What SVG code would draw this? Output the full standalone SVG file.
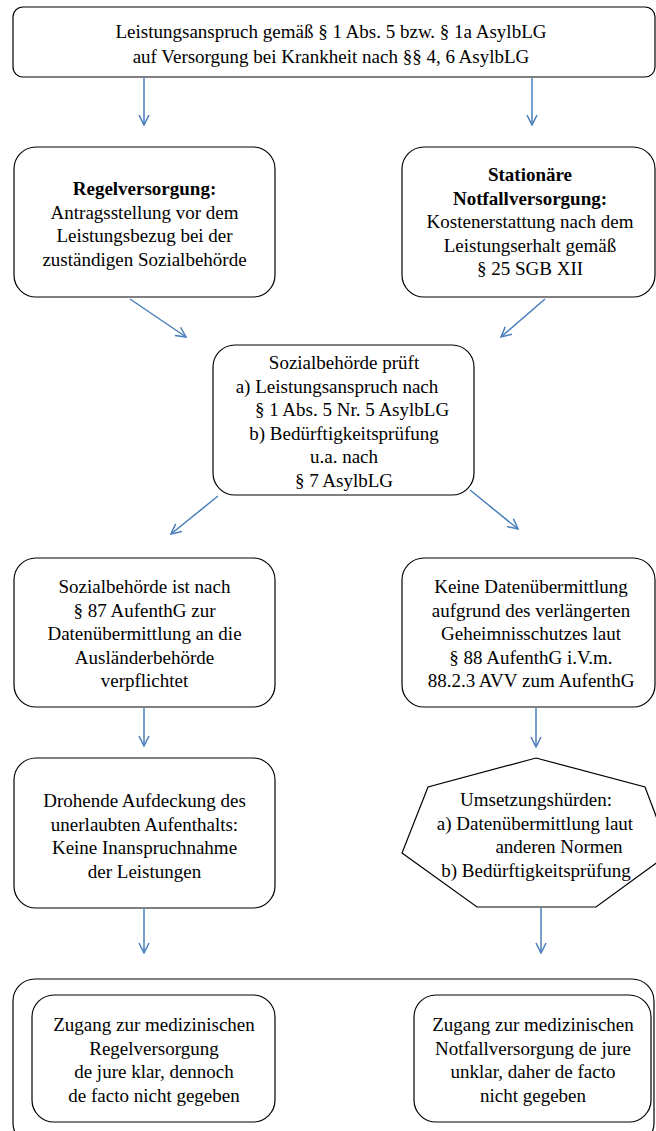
<svg xmlns="http://www.w3.org/2000/svg" width="656" height="1131" viewBox="0 0 656 1131">
<defs>
<marker id="ah" viewBox="0 0 12 12" refX="11" refY="6" markerWidth="12" markerHeight="12" markerUnits="userSpaceOnUse" orient="auto">
<path d="M1,1 L11,6 L1,11" fill="none" stroke="#4A7EBB" stroke-width="1.5"/>
</marker>
<style>
.box{fill:#fff;stroke:#000;stroke-width:1.2}
.t{font-family:"Liberation Serif","Times New Roman",serif;font-size:19px;fill:#000;text-anchor:middle}
.b{font-weight:bold}
.arr{stroke:#4A7EBB;stroke-width:1.5;fill:none;marker-end:url(#ah)}
</style>
</defs>
<rect width="656" height="1131" fill="#fff"/>
<g id="connectors">
<line class="arr" x1="144" y1="78" x2="144" y2="125"/>
<line class="arr" x1="532" y1="78" x2="532" y2="125"/>
<line class="arr" x1="130" y1="299" x2="186" y2="337"/>
<line class="arr" x1="545" y1="299" x2="501" y2="337"/>
<line class="arr" x1="218" y1="496" x2="171" y2="534"/>
<line class="arr" x1="470" y1="490" x2="518" y2="529"/>
<line class="arr" x1="144" y1="708" x2="144" y2="746"/>
<line class="arr" x1="536" y1="708" x2="536" y2="747"/>
<line class="arr" x1="144" y1="909" x2="144" y2="953"/>
<line class="arr" x1="541" y1="908" x2="541" y2="953"/>
</g>
<g id="n1">
<rect class="box" x="13" y="7" width="642" height="70" rx="10"/>
<text class="t" x="331" y="38">Leistungsanspruch gemäß § 1 Abs. 5 bzw. § 1a AsylbLG</text>
<text class="t" x="331" y="63">auf Versorgung bei Krankheit nach §§ 4, 6 AsylbLG</text>
</g>
<g id="n2">
<rect class="box" x="14" y="147" width="261" height="150" rx="22"/>
<text class="t b" x="144.5" y="195">Regelversorgung:</text>
<text class="t" x="144.5" y="218.5">Antragsstellung vor dem</text>
<text class="t" x="144.5" y="242">Leistungsbezug bei der</text>
<text class="t" x="144.5" y="265.5">zuständigen Sozialbehörde</text>
</g>
<g id="n3">
<rect class="box" x="402" y="147" width="253" height="150" rx="22"/>
<text class="t b" x="530" y="181">Stationäre</text>
<text class="t b" x="530" y="204.5">Notfallversorgung:</text>
<text class="t" x="530" y="228">Kostenerstattung nach dem</text>
<text class="t" x="530" y="251.5">Leistungserhalt gemäß</text>
<text class="t" x="530" y="275">§ 25 SGB XII</text>
</g>
<g id="n4">
<rect class="box" x="213" y="345" width="261" height="150" rx="22"/>
<text class="t" x="344" y="369">Sozialbehörde prüft</text>
<text class="t" x="337" y="392.5">a) Leistungsanspruch nach</text>
<text class="t" x="352" y="416">§ 1 Abs. 5 Nr. 5 AsylbLG</text>
<text class="t" x="344" y="439.5">b) Bedürftigkeitsprüfung</text>
<text class="t" x="344" y="463">u.a. nach</text>
<text class="t" x="344" y="486.5">§ 7 AsylbLG</text>
</g>
<g id="n5">
<rect class="box" x="14" y="558" width="261" height="149" rx="22"/>
<text class="t" x="144.5" y="593">Sozialbehörde ist nach</text>
<text class="t" x="144.5" y="616.5">§ 87 AufenthG zur</text>
<text class="t" x="144.5" y="640">Datenübermittlung an die</text>
<text class="t" x="144.5" y="663.5">Ausländerbehörde</text>
<text class="t" x="144.5" y="687">verpflichtet</text>
</g>
<g id="n6">
<rect class="box" x="402" y="558" width="253" height="149" rx="22"/>
<text class="t" x="531" y="593">Keine Datenübermittlung</text>
<text class="t" x="531" y="616.5">aufgrund des verlängerten</text>
<text class="t" x="531" y="640">Geheimnisschutzes laut</text>
<text class="t" x="531" y="663.5">§ 88 AufenthG i.V.m.</text>
<text class="t" x="531" y="687">88.2.3 AVV zum AufenthG</text>
</g>
<g id="n7">
<rect class="box" x="14" y="758" width="261" height="150" rx="22"/>
<text class="t" x="144.5" y="807">Drohende Aufdeckung des</text>
<text class="t" x="144.5" y="830.5">unerlaubten Aufenthalts:</text>
<text class="t" x="144.5" y="854">Keine Inanspruchnahme</text>
<text class="t" x="144.5" y="877.5">der Leistungen</text>
</g>
<g id="n8">
<polygon class="box" points="536,758 645,787 670,853 596,907 477,907 402,853 428,787"/>
<text class="t" x="536" y="806">Umsetzungshürden:</text>
<text class="t" x="535" y="829.5">a) Datenübermittlung laut</text>
<text class="t" x="559" y="853">anderen Normen</text>
<text class="t" x="536" y="876.5">b) Bedürftigkeitsprüfung</text>
</g>
<g id="n9">
<rect class="box" x="13" y="979" width="641" height="166" rx="22"/>
</g>
<g id="n10">
<rect class="box" x="32" y="995" width="243" height="127" rx="22"/>
<text class="t" x="154" y="1031">Zugang zur medizinischen</text>
<text class="t" x="154" y="1054.5">Regelversorgung</text>
<text class="t" x="154" y="1078">de jure klar, dennoch</text>
<text class="t" x="154" y="1101.5">de facto nicht gegeben</text>
</g>
<g id="n11">
<rect class="box" x="414" y="995" width="237" height="127" rx="22"/>
<text class="t" x="533" y="1031">Zugang zur medizinischen</text>
<text class="t" x="533" y="1054.5">Notfallversorgung de jure</text>
<text class="t" x="533" y="1078">unklar, daher de facto</text>
<text class="t" x="533" y="1101.5">nicht gegeben</text>
</g>
</svg>
